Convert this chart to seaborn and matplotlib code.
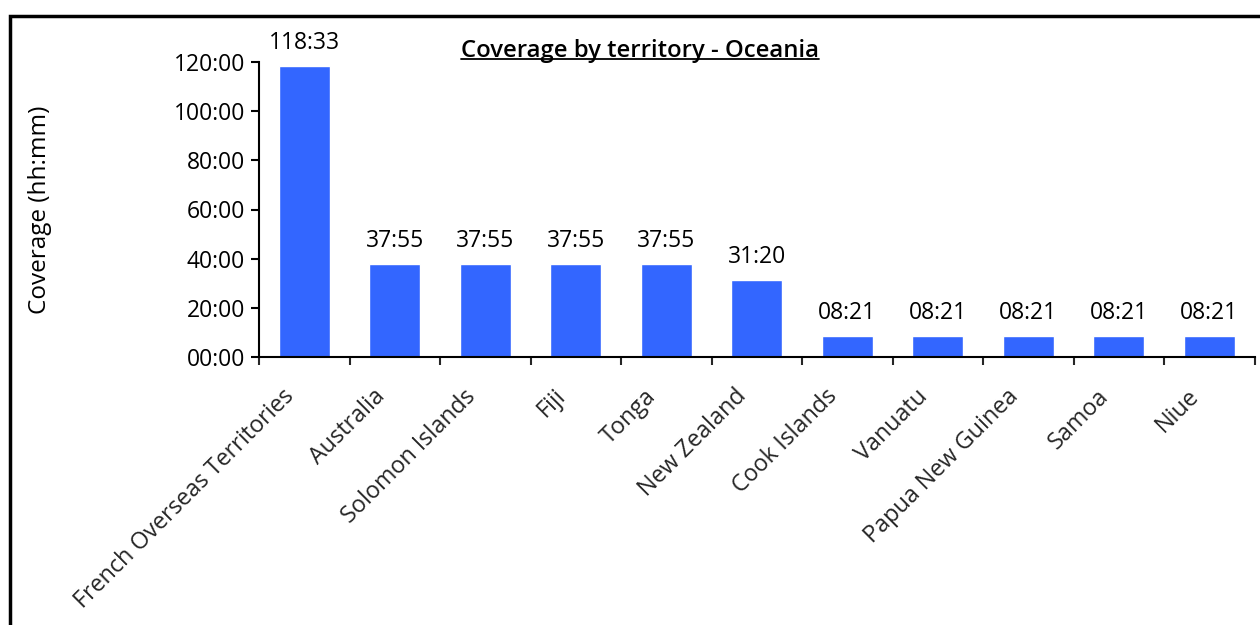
import matplotlib
matplotlib.use("Agg")
import matplotlib.pyplot as plt
import matplotlib.transforms as mtransforms
import seaborn as sns
import numpy as np
import pandas as pd
from matplotlib.patches import Rectangle
from matplotlib.ticker import FuncFormatter, FixedLocator

categories = ["French Overseas Territories", "Australia", "Solomon Islands", "Fiji",
              "Tonga", "New Zealand", "Cook Islands", "Vanuatu", "Papua New Guinea",
              "Samoa", "Niue"]
minutes = [118*60+33, 37*60+55, 37*60+55, 37*60+55, 37*60+55, 31*60+20,
           8*60+21, 8*60+21, 8*60+21, 8*60+21, 8*60+21]
yticks_hours = [0, 20, 40, 60, 80, 100, 120]

df = pd.DataFrame({"territory": categories, "hours": np.array(minutes) / 60.0})

sns.set_theme(style="white")
plt.rcParams['font.family'] = ['Open Sans', 'DejaVu Sans']

FS = 16.5

fig = plt.figure(figsize=(12.6, 6.25), dpi=100)
ax = fig.add_axes([259/1260, 1 - 357/625, (1254.5-259)/1260, (357-62)/625])

sns.barplot(data=df, x="territory", y="hours", color="#3366FF", saturation=1,
            width=0.56, ax=ax)

def fmt(h):
    m = int(round(h*60))
    return f"{m//60:02d}:{m%60:02d}"

for p, h in zip(ax.patches, df["hours"]):
    ax.text(p.get_x() + p.get_width()/2, h + 4.5, fmt(h), ha="center", va="bottom",
            fontsize=FS, color="black")

ax.set_ylim(0, 120)
ax.set_xlim(-0.5, len(categories) - 0.5)
ax.set_yticks(yticks_hours)
ax.yaxis.set_major_formatter(FuncFormatter(lambda v, p: fmt(v)))
ax.tick_params(axis="y", labelsize=FS, length=6, width=1.5, direction="out", left=True, pad=4, colors="black")

ax.xaxis.set_major_locator(FixedLocator(np.arange(-0.5, len(categories))))
ax.xaxis.set_minor_locator(FixedLocator(np.arange(len(categories))))
ax.set_xticklabels([""] * (len(categories) + 1))
ax.set_xticklabels(categories, minor=True, rotation=45, ha="right", rotation_mode="anchor", fontsize=16.8)
ax.tick_params(axis="x", which="major", length=6, width=1.5, direction="out", bottom=True)
ax.tick_params(axis="x", which="minor", length=0, pad=22)
off = mtransforms.ScaledTranslation(-22/100, 3/100, fig.dpi_scale_trans)
for lab in ax.get_xticklabels(minor=True):
    lab.set_transform(lab.get_transform() + off)

for s in ["top", "right"]:
    ax.spines[s].set_visible(False)
for s in ["left", "bottom"]:
    ax.spines[s].set_color("black")
    ax.spines[s].set_linewidth(1.5)

ax.set_xlabel("")
ax.set_ylabel("Coverage (hh:mm)", fontsize=17.5, color="black")
ax.yaxis.set_label_coords((40 - 259)/995.5, 0.5)
ax.yaxis.label.set_va("center")

ttl = fig.text(640/1260, 1 - 51/625, "Coverage by territory - Oceania", ha="center", va="center",
               fontsize=17.2, fontweight="semibold", color="black")
fig.canvas.draw()
bb = ttl.get_window_extent()
inv = fig.transFigure.inverted()
(x0, y0), (x1, y1) = inv.transform([(bb.x0, bb.y0), (bb.x1, bb.y1)])
fig.add_artist(plt.Line2D([x0, x1], [y0 + 0.006, y0 + 0.006], transform=fig.transFigure,
                          color="black", linewidth=1.3))

fig.add_artist(Rectangle((10/1260, -0.05), 1.2, 1 - 16/625 + 0.05, transform=fig.transFigure,
                         fill=False, edgecolor="black", linewidth=2.5))

fig.savefig("out.png", dpi=100)
